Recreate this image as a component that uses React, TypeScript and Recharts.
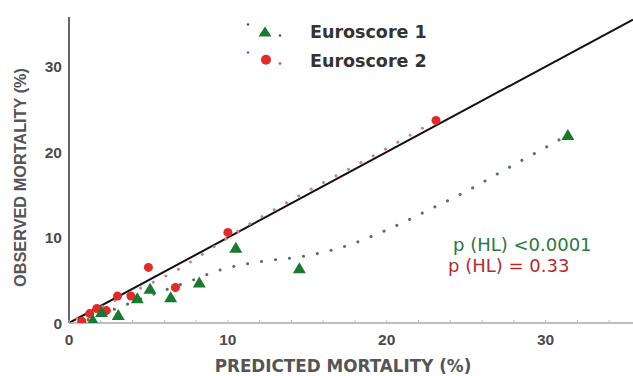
import { ComposedChart, Scatter, Line, XAxis, YAxis, ReferenceLine, Label } from 'recharts';

// observed vs predicted mortality
const euro1Points = [
    { x: 1.5, y: 0.35 },
    { x: 2.05, y: 1.3 },
    { x: 3.1, y: 0.95 },
    { x: 4.3, y: 2.9 },
    { x: 5.1, y: 4.0 },
    { x: 6.4, y: 3.0 },
    { x: 8.2, y: 4.75 },
    { x: 10.5, y: 8.8 },
    { x: 14.5, y: 6.4 },
    { x: 31.4, y: 22.0 },
];

const euro2Points = [
    { x: 0.8, y: 0.2 },
    { x: 1.3, y: 1.1 },
    { x: 1.75, y: 1.7 },
    { x: 2.35, y: 1.45 },
    { x: 3.05, y: 3.15 },
    { x: 3.9, y: 3.15 },
    { x: 5.0, y: 6.5 },
    { x: 6.7, y: 4.15 },
    { x: 10.0, y: 10.6 },
    { x: 23.1, y: 23.7 },
];

// dotted calibration curves
const euro1Fit = [
    { x: 1.2, y: 0.4 },
    { x: 3.4, y: 2.0 },
    { x: 5.1, y: 3.2 },
    { x: 7.7, y: 4.95 },
    { x: 9.5, y: 6.2 },
    { x: 12.1, y: 7.2 },
    { x: 14.6, y: 7.75 },
    { x: 17.25, y: 8.9 },
    { x: 19.9, y: 10.8 },
    { x: 22.5, y: 13.1 },
    { x: 25.1, y: 15.5 },
    { x: 27.6, y: 18.1 },
    { x: 30.25, y: 20.8 },
    { x: 31.4, y: 22.0 },
];

const euro2Fit = [
    { x: 0.5, y: 0.5 },
    { x: 4.3, y: 3.9 },
    { x: 6.9, y: 6.3 },
    { x: 8.7, y: 8.4 },
    { x: 11.3, y: 11.5 },
    { x: 14.7, y: 15.1 },
    { x: 18.3, y: 18.7 },
    { x: 21.7, y: 22.2 },
    { x: 23.1, y: 23.7 },
];

const xTicks = [0, 2, 4, 6, 8, 10, 12, 14, 16, 18, 20, 22, 24, 26, 28, 30, 32, 34];
const yTicks = [0, 10, 20, 30];
const xLabelled = [0, 10, 20, 30];
const seriesNames = ['Euroscore 1', 'Euroscore 2'];
const hlTests = ['p (HL) <0.0001', 'p (HL) = 0.33'];

const GREEN = '#167a31';
const RED = '#e42a27';
const FONT = '"Liberation Sans", Arial, sans-serif';
const WIDE = '"DejaVu Sans", sans-serif';

const Triangle = (props: any) => {
    const { cx, cy } = props;
    return <polygon points={`${cx},${cy - 6} ${cx + 6.5},${cy + 5} ${cx - 6.5},${cy + 5}`} fill={GREEN} />;
};

const Dot = (props: any) => {
    const { cx, cy } = props;
    return <circle cx={cx} cy={cy} r={4.5} fill={RED} />;
};

const XTick = (props: any) => {
    const { x, y, payload } = props;
    const axisY = y - 11;
    const major = xLabelled.includes(payload.value);
    return (
        <g>
            <line x1={x} x2={x} y1={axisY} y2={axisY - 3} stroke="#bbb" strokeWidth={1} />
            {major && (
                <text x={x} y={y} dy="0.71em" textAnchor="middle" fill="#4a4a4a" fontSize={15.5} fontWeight="bold" fontFamily={FONT}>
                    {payload.value}
                </text>
            )}
        </g>
    );
};

const LegendBox = () => {
    const rows = [
        { label: seriesNames[0], color: GREEN, dots: '#555', tri: true },
        { label: seriesNames[1], color: RED, dots: '#c44', tri: false },
    ];
    return (
        <div style={{ position: 'absolute', left: 240, top: 17, fontFamily: WIDE }}>
            {rows.map((r) => (
                <div key={r.label} style={{ display: 'flex', alignItems: 'center', height: 29 }}>
                    <svg width={50} height={20}>
                        <circle cx={8} cy={r.tri ? 2.5 : 1.5} r={1.3} fill={r.dots} />
                        <circle cx={40} cy={r.tri ? 13.5 : 12.5} r={1.3} fill={r.dots} />
                        {r.tri ? (
                            <polygon points="25,4.5 31.5,14.5 18.5,14.5" fill={r.color} />
                        ) : (
                            <circle cx={26} cy={8.8} r={5} fill={r.color} />
                        )}
                    </svg>
                    <span style={{ fontSize: 17.5, fontWeight: 'bold', color: '#333', marginLeft: 20 }}>{r.label}</span>
                </div>
            ))}
        </div>
    );
};

export default function App() {
    return (
        <div style={{ position: 'absolute', left: 0, top: 0, width: 633, height: 376, background: '#fff' }}>
            <ComposedChart width={633} height={376} margin={{ top: 17, right: 0, left: 0, bottom: 0 }}>
                <XAxis
                    type="number"
                    dataKey="x"
                    domain={[0, 35.5]}
                    ticks={xTicks}
                    allowDataOverflow
                    height={53}
                    stroke="#aaa"
                    strokeWidth={1.5}
                    tickLine={false}
                    tickSize={0}
                    tickMargin={11}
                    tick={<XTick />}
                    interval={0}
                >
                    <Label value="PREDICTED MORTALITY (%)" position="insideBottom" offset={4} dx={-8} fill="#555" fontSize={16.8} fontWeight="bold" fontFamily={WIDE} />
                </XAxis>
                <YAxis
                    type="number"
                    dataKey="y"
                    domain={[0, 35.8]}
                    ticks={yTicks}
                    allowDataOverflow
                    width={69}
                    stroke="#666"
                    strokeWidth={2}
                    tickLine={false}
                    tickSize={0}
                    tickMargin={7}
                    tick={{ fill: '#4a4a4a', fontSize: 15.5, fontWeight: 'bold', fontFamily: FONT }}
                >
                    <Label value="OBSERVED MORTALITY (%)" angle={-90} position="insideLeft" offset={20} dy={7.5} fill="#555" fontSize={16.3} fontWeight="bold" fontFamily={FONT} style={{ textAnchor: 'middle' }} />
                </YAxis>
                <ReferenceLine segment={[{ x: 0, y: 0 }, { x: 35.5, y: 35.5 }]} stroke="#111" strokeWidth={2} ifOverflow="hidden" />
                <Line data={euro1Fit} dataKey="y" type="monotone" stroke="#5c6f60" strokeWidth={3} strokeDasharray="0.1 14" strokeLinecap="round" dot={false} legendType="none" isAnimationActive={false} />
                <Line data={euro2Fit} dataKey="y" type="monotone" stroke="#d0827f" strokeWidth={3} strokeDasharray="0.1 14" strokeLinecap="round" dot={false} legendType="none" isAnimationActive={false} />
                <Scatter name={seriesNames[1]} data={euro2Points} dataKey="y" fill={RED} shape={<Dot />} isAnimationActive={false} />
                <Scatter name={seriesNames[0]} data={euro1Points} dataKey="y" fill={GREEN} shape={<Triangle />} isAnimationActive={false} />
            </ComposedChart>
            <LegendBox />
            <div style={{ position: 'absolute', left: 448, top: 233.5, fontFamily: WIDE, fontSize: 18, lineHeight: '21px', whiteSpace: 'nowrap' }}>
                <span style={{ color: '#257a3c', marginLeft: 5 }}>{hlTests[0]}</span>
                <br />
                <span style={{ color: '#b8282e' }}>{hlTests[1]}</span>
            </div>
        </div>
    );
}
